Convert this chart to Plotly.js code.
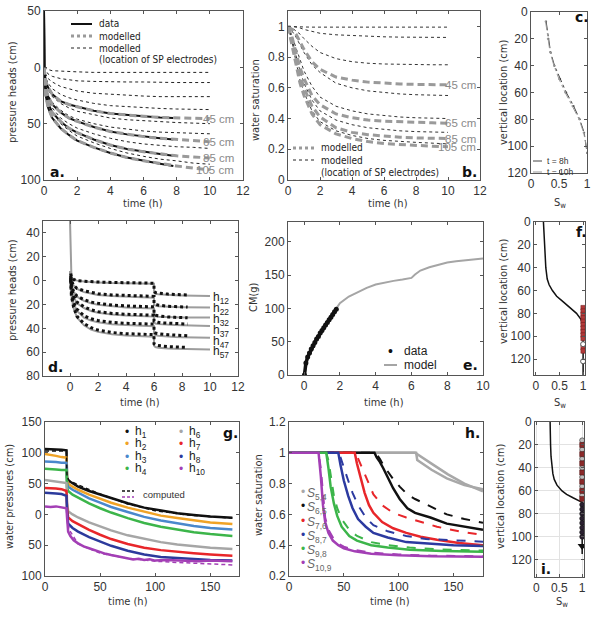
<!DOCTYPE html>
<html>
<head>
<meta charset="utf-8">
<script src="https://cdn.plot.ly/plotly-3.0.1.min.js"></script>
<style>
html,body{margin:0;padding:0;background:#fff}
#fig{width:594px;height:621px}
</style>
</head>
<body>
<div id="fig"></div>
<script>
// ===================== data =====================
// (a) pressure heads during drainage
const tA = [0, 0.1, 0.25, 0.5, 1, 1.5, 2, 3, 4, 5, 6, 7, 8, 9, 10];
const aElectrodes = [
  [0, -1, -2, -3, -3.5, -4, -4, -4.5, -4.5, -4.5, -4.5, -4.5, -4.5, -4.5, -4.5],
  [0, -3, -6, -8, -10, -11, -12, -12.5, -13, -13, -13, -13.5, -13.5, -13.5, -13.5],
  [0, -6, -10, -13, -17, -19, -21, -23, -24, -25, -25.5, -26, -26, -26, -26],
  [0, -9, -14, -19, -24, -27, -29, -32, -34, -35, -36, -36.5, -37, -37, -37.5],
  [0, -14, -20, -26, -32, -36, -39, -42, -45, -46.5, -47.5, -48.5, -49, -49.5, -50],
  [0, -18, -25, -31, -38, -43, -46, -50, -53, -55, -56.5, -57.5, -58, -58.5, -59],
  [0, -20, -28, -36, -45, -50, -54, -59, -63, -66, -68, -69.5, -70.5, -71, -72],
  [0, -22, -32, -40, -50, -56, -61, -67, -72, -76, -79, -81.5, -83, -85, -86]
];
const aModel = [
  [0, -12, -18, -24, -30, -33, -35, -38.5, -41, -42.5, -43.5, -44.5, -45, -45.3, -45.5],
  [0, -18, -26, -33, -40, -45, -48, -53, -57, -59.5, -61.5, -63, -64, -65, -66],
  [0, -22, -32, -40, -48, -54, -58, -64, -69, -72.5, -75, -77, -78.5, -79.5, -80.5],
  [0, -25, -36, -45, -54, -60, -65, -71, -76, -80, -83, -85.5, -87.5, -89.5, -91]
];
const tAd = [0, 0.02, 0.1, 0.25, 0.5, 1, 1.5, 2, 3, 4, 5, 6, 7, 7.8];
const aData = [
  [50, 0, -12, -18, -24, -30, -33, -35, -38.5, -41, -42.5, -43.5, -44.5, -45],
  [50, 0, -18, -26, -33, -40, -45, -48, -53, -57, -59.5, -61.5, -63, -64],
  [50, 0, -22, -32, -40, -48, -54, -58, -64, -69, -72.5, -75, -77, -78.5],
  [50, 0, -25, -36, -45, -54, -60, -65, -71, -76, -80, -83, -85.5, -87.5]
];
const depthLabels = ['45 cm', '65 cm', '85 cm', '105 cm'];

// (b) water saturation
const tB = [0, 0.25, 0.5, 0.75, 1, 1.5, 2, 3, 4, 5, 6, 7, 8, 9, 10];
const bElectrodes = [
  [1, 0.998, 0.997, 0.996, 0.996, 0.995, 0.995, 0.995, 0.995, 0.995, 0.995, 0.995, 0.995, 0.995, 0.995],
  [1, 1, 0.995, 0.99, 0.98, 0.965, 0.955, 0.945, 0.94, 0.935, 0.932, 0.93, 0.93, 0.928, 0.928],
  [1, 0.99, 0.97, 0.95, 0.92, 0.87, 0.83, 0.79, 0.77, 0.76, 0.755, 0.752, 0.75, 0.75, 0.75],
  [1, 0.97, 0.93, 0.88, 0.83, 0.75, 0.7, 0.63, 0.6, 0.58, 0.57, 0.56, 0.555, 0.552, 0.55],
  [1, 0.94, 0.86, 0.78, 0.71, 0.61, 0.54, 0.48, 0.45, 0.43, 0.42, 0.41, 0.405, 0.402, 0.40],
  [1, 0.92, 0.81, 0.71, 0.63, 0.52, 0.45, 0.39, 0.36, 0.34, 0.33, 0.32, 0.315, 0.312, 0.31],
  [1, 0.9, 0.77, 0.65, 0.57, 0.45, 0.38, 0.32, 0.29, 0.27, 0.258, 0.25, 0.245, 0.24, 0.235]
];
const bModel = [
  [1, 0.98, 0.95, 0.9, 0.85, 0.77, 0.72, 0.67, 0.65, 0.637, 0.63, 0.625, 0.622, 0.62, 0.62],
  [1, 0.93, 0.83, 0.73, 0.66, 0.55, 0.49, 0.43, 0.405, 0.39, 0.383, 0.378, 0.374, 0.372, 0.37],
  [1, 0.9, 0.79, 0.68, 0.6, 0.48, 0.41, 0.34, 0.31, 0.295, 0.285, 0.278, 0.274, 0.272, 0.27],
  [1, 0.88, 0.75, 0.63, 0.55, 0.43, 0.36, 0.3, 0.27, 0.25, 0.237, 0.23, 0.225, 0.22, 0.216]
];

// (c) saturation profiles
const depthC = [7, 20, 30, 40, 50, 60, 70, 80, 90, 100, 105];
const swC8h = [0.27, 0.31, 0.35, 0.42, 0.52, 0.63, 0.76, 0.87, 0.95, 0.99, 1.0];
const swC10h = [0.26, 0.3, 0.34, 0.41, 0.5, 0.61, 0.74, 0.86, 0.94, 0.99, 1.0];

// (d) pressure heads, two-step drainage
const tDm = [0, 0.05, 0.1, 0.25, 0.5, 1, 1.5, 2, 3, 4, 5, 6, 6, 6.1, 6.3, 6.6, 7, 7.5, 8, 8.4, 9, 10];
const dModel = [
  [50, 7, 3, 1, 0, -0.8, -1.3, -1.5, -2, -2.3, -2.5, -2.7, -10, -11, -11.5, -11.8, -12, -12.2, -12.4, -12.6, -12.8, -13],
  [8, 4, 0, -4, -7, -9.5, -11, -12, -13, -13.6, -14, -14.3, -20, -21, -21.5, -21.8, -22, -22.2, -22.3, -22.4, -22.5, -22.6],
  [8, 3, -3, -9, -13.5, -17, -19, -20.3, -21.7, -22.5, -23, -23.3, -29, -30, -30.3, -30.5, -30.7, -30.8, -30.9, -31, -31, -31],
  [8, 2, -6, -13.5, -19, -23, -25.5, -27, -28.5, -29.3, -29.8, -30.2, -35, -36, -36.5, -36.8, -37, -37.2, -37.4, -37.5, -37.7, -38],
  [8, 1, -10, -19, -25.5, -31, -33.5, -35, -36.5, -37.3, -37.8, -38.2, -44.5, -45.7, -46.3, -46.7, -47, -47.3, -47.5, -47.6, -47.8, -48],
  [8, 0, -13, -23, -31, -37.5, -41, -43, -45, -46, -46.5, -47, -54.5, -55.7, -56.3, -56.7, -57, -57.2, -57.4, -57.5, -57.6, -57.8]
];
const tDd = [0.05, 0.1, 0.25, 0.5, 1, 1.5, 2, 3, 4, 5, 6, 6, 6.1, 6.3, 6.6, 7, 7.5, 8, 8.4];
const dData = [
  [6, 3, 1, 0, -0.5, -1, -1.2, -1.5, -1.8, -2, -2.2, -9, -10, -10.5, -11, -11.3, -11.6, -11.8, -12],
  [4, 0, -4, -6.5, -8.5, -10, -11, -12, -12.5, -13, -13.2, -19, -20, -20.5, -21, -21.5, -21.8, -22, -22.2],
  [3, -3, -9, -13, -16, -18, -19, -20.5, -21.2, -21.7, -22, -28, -29, -29.5, -30, -30.5, -30.8, -31, -31.2],
  [2, -6, -13, -18, -22, -24.5, -26, -27.5, -28.2, -28.7, -29, -34, -34.5, -35, -35.5, -35.8, -36, -36.2, -36.4],
  [1, -10, -18, -24, -29.5, -32, -33.5, -35, -35.8, -36.2, -36.5, -43, -44, -44.5, -45, -45.4, -45.7, -46, -46.2],
  [0, -13, -22, -30, -36, -39.5, -41.5, -43.5, -44.5, -45, -45.3, -53, -54, -54.5, -55, -55.3, -55.6, -55.8, -56]
];
const dLabels = ['h<sub>12</sub>', 'h<sub>22</sub>', 'h<sub>32</sub>', 'h<sub>37</sub>', 'h<sub>47</sub>', 'h<sub>57</sub>'];

// (e) cumulative outflow mass
const tEd = [0.02, 0.1, 0.2, 0.3, 0.4, 0.5, 0.6, 0.7, 0.8, 0.9, 1.0, 1.1, 1.2, 1.3, 1.4, 1.5, 1.6, 1.7, 1.8];
const cmEd = [0, 18, 27, 33, 39, 44, 49, 54, 58, 63, 67, 71, 75, 79, 83, 87, 91, 95, 99];
const tEm = [0, 0.05, 0.2, 0.5, 1, 1.5, 2, 2.5, 3, 3.5, 4, 4.5, 5, 5.5, 6, 6.2, 6.5, 7, 7.5, 8, 8.5, 9, 9.5, 10];
const cmEm = [0, 5, 25, 45, 68, 88, 108, 118, 125, 131, 136, 139, 141.5, 143.5, 146, 151, 157, 162, 166, 169, 171, 172.5, 174, 175];

// (f) saturation profile with electrode positions
const depthF = [0, 10, 20, 30, 40, 50, 55, 60, 65, 70, 75, 80, 85, 90, 95, 134];
const swF = [0.16, 0.17, 0.18, 0.19, 0.21, 0.24, 0.28, 0.35, 0.44, 0.58, 0.72, 0.86, 0.95, 0.99, 1.0, 1.0];
const fSquares = [75, 78, 81, 84, 87, 90, 93, 96, 99, 102, 110, 113];
const fCircles = [107, 122];

// (g) water pressures
const tG = [0, 5, 10, 15, 19.5, 20, 21, 25, 30, 40, 50, 60, 75, 90, 105, 120, 135, 150, 170];
const gNames = ['h<sub>1</sub>', 'h<sub>2</sub>', 'h<sub>3</sub>', 'h<sub>4</sub>', 'h<sub>6</sub>', 'h<sub>7</sub>', 'h<sub>8</sub>'];
const gSeries = [
  [106, 106, 105, 105, 104, 60, 55, 50, 45, 38, 32, 26, 18, 11, 6, 2, -1, -3.5, -5.5],
  [98, 97, 95, 93, 92, 55, 50, 45, 40, 32, 25, 19, 11, 4, -2, -6, -10, -13, -15.5],
  [86, 86, 85, 84, 84, 50, 45, 40, 35, 26, 19, 12, 4, -4, -10, -15, -19, -22, -24.5],
  [74, 74, 73, 72, 72, 44, 38, 32, 27, 18, 10, 3, -6, -14, -20, -25, -29, -32, -35],
  [56, 55, 54, 53, 51, 20, 5, 0, -5, -13, -20, -26, -34, -40, -45, -49, -52, -54, -56],
  [43, 43, 42, 41, 38, 10, -5, -11, -16, -25, -33, -40, -48, -54, -58, -61, -63, -65, -67],
  [35, 35, 34, 33, 30, 5, -15, -22, -28, -37, -44, -51, -59, -65, -69, -71, -73, -74, -75]
];
const tG10 = [0, 5, 10, 15, 19.5, 20, 21, 23, 26, 30, 35, 40, 45, 50, 55, 60, 65, 70, 75, 80, 85, 90, 95, 100, 110, 120, 130, 140, 150, 160, 170];
const gH10 = [13, 12, 13, 11, 10, -5, -28, -35, -42, -47, -52, -55, -58, -62, -64, -66, -68, -69, -72, -73, -72, -74, -73, -75, -74, -75, -75, -76, -75, -76, -76];
const tGc1 = [0, 10, 19.5, 20, 22, 30, 50, 75, 100, 130, 170];
const gComp1 = [103, 103, 103, 60, 55, 48, 33, 17, 6, -1, -6];
const tGc10 = [20, 22, 30, 50, 75, 100, 120, 140, 160, 170];
const gComp10 = [-5, -25, -48, -63, -71, -76, -78, -80, -82, -82];

// (h) water saturation per layer (solid: measured, dashed: computed)
const hNames = ['<i>S</i><sub>5,4</sub>', '<i>S</i><sub>6,5</sub>', '<i>S</i><sub>7,6</sub>', '<i>S</i><sub>8,7</sub>', '<i>S</i><sub>9,8</sub>', '<i>S</i><sub>10,9</sub>'];
const tH54a = [0, 115, 130, 145, 160, 177];
const sH54a = [1, 1, 0.93, 0.86, 0.8, 0.75];
const tH54b = [0, 116, 117, 130, 144, 160, 177];
const sH54b = [1, 1, 0.953, 0.89, 0.834, 0.79, 0.763];
const tH65 = [0, 78, 80, 83, 86, 90, 95, 101, 108, 115, 129, 144, 160, 177];
const sH65 = [1, 1, 0.97, 0.94, 0.9, 0.84, 0.77, 0.7, 0.64, 0.61, 0.58, 0.54, 0.52, 0.50];
const cH65 = [1, 1, 0.99, 0.96, 0.92, 0.88, 0.83, 0.78, 0.73, 0.7, 0.65, 0.6, 0.57, 0.546];
const tH76 = [0, 60, 62, 65, 69, 73, 77, 85, 95, 107, 120, 135, 155, 177];
const sH76 = [1, 1, 0.93, 0.84, 0.74, 0.66, 0.61, 0.55, 0.51, 0.48, 0.455, 0.435, 0.415, 0.40];
const cH76 = [1, 1, 0.98, 0.93, 0.86, 0.79, 0.73, 0.66, 0.61, 0.58, 0.55, 0.52, 0.49, 0.466];
const tH87 = [0, 45, 47, 50, 54, 58, 63, 70, 77, 90, 107, 125, 150, 177];
const sH87 = [1, 1, 0.92, 0.82, 0.72, 0.64, 0.57, 0.52, 0.48, 0.45, 0.42, 0.41, 0.4, 0.395];
const cH87 = [1, 1, 0.97, 0.9, 0.82, 0.74, 0.66, 0.58, 0.53, 0.49, 0.46, 0.44, 0.43, 0.423];
const tH98 = [0, 34, 36, 38, 41, 44, 48, 55, 62, 75, 90, 110, 140, 177];
const sH98 = [1, 1, 0.9, 0.78, 0.67, 0.59, 0.52, 0.46, 0.43, 0.4, 0.385, 0.37, 0.362, 0.358];
const cH98 = [1, 1, 0.95, 0.85, 0.72, 0.64, 0.57, 0.5, 0.46, 0.42, 0.4, 0.385, 0.372, 0.365];
const tH109 = [0, 27, 29, 31, 33, 36, 40, 45, 50, 60, 75, 100, 130, 177];
const sH109 = [1, 1, 0.85, 0.66, 0.55, 0.48, 0.43, 0.4, 0.38, 0.36, 0.345, 0.335, 0.328, 0.325];
const cH109 = [1, 1, 0.9, 0.72, 0.58, 0.5, 0.45, 0.41, 0.39, 0.37, 0.352, 0.34, 0.332, 0.328];

// (i) saturation profile with sensor positions
const depthI = [0, 10, 20, 30, 40, 45, 50, 55, 60, 63, 66, 68, 70, 115];
const swI = [0.3, 0.3, 0.31, 0.32, 0.34, 0.36, 0.39, 0.45, 0.56, 0.66, 0.8, 0.92, 1.0, 1.0];
const iCircles = [16, 24, 32, 40, 48, 56, 64];
const iSquares = [20, 28, 36, 44, 52, 60, 67];
const iFilled = [72, 76, 80, 84, 88, 92, 96, 100];
const iArrow = [108];

// ===================== styling helpers =====================
const W = 594, H = 621;
const px = v => v / W;
const py = v => 1 - v / H;
const TICKFONT = {family: 'Liberation Sans, Arial, sans-serif', size: 12, color: '#333'};
const TITLEFONT = {family: 'DejaVu Sans Condensed, DejaVu Sans, sans-serif', size: 11, color: '#333'};
const LEGFONT = {family: 'DejaVu Sans Condensed, DejaVu Sans, sans-serif', size: 10, color: '#222'};

const colors = {
  h1: '#111111', h2: '#f0a326', h3: '#4a88cc', h4: '#3cb54a',
  h6: '#a6a6a6', h7: '#e8262a', h8: '#2c3a9c', h10: '#a33fb5'
};
const gColors = [colors.h1, colors.h2, colors.h3, colors.h4, colors.h6, colors.h7, colors.h8];

const traces = [];
function line(id, x, y, ln, extra) {
  traces.push(Object.assign({type: 'scatter', mode: 'lines', x: x, y: y,
    xaxis: 'x' + id, yaxis: 'y' + id, line: ln, hoverinfo: 'skip', showlegend: false}, extra || {}));
}
function pts(id, x, y, mk) {
  traces.push({type: 'scatter', mode: 'markers', x: x, y: y, xaxis: 'x' + id, yaxis: 'y' + id,
    marker: mk, hoverinfo: 'skip', showlegend: false});
}

const layout = {
  width: W, height: H, margin: {l: 0, r: 0, t: 0, b: 0},
  paper_bgcolor: '#fff', plot_bgcolor: '#fff', showlegend: false,
  shapes: [], annotations: []
};

function axes(id, box, xr, yr, xo, yo) {
  const [x0, x1, y0, y1] = box;
  const base = {showline: true, mirror: 'ticks', linecolor: '#555', linewidth: 1,
    ticks: 'inside', ticklen: 3, tickcolor: '#555', showgrid: false, zeroline: false,
    tickfont: TICKFONT, fixedrange: true};
  layout['xaxis' + id] = Object.assign({}, base, {domain: [px(x0), px(x1)], range: xr, anchor: 'y' + id}, xo || {});
  layout['yaxis' + id] = Object.assign({}, base, {domain: [py(y1), py(y0)], range: yr, anchor: 'x' + id}, yo || {});
}
function text(t, x, y, font, opts) {
  layout.annotations.push(Object.assign({text: t, x: px(x), y: py(y), xref: 'paper', yref: 'paper',
    showarrow: false, font: font, xanchor: 'center', yanchor: 'middle'}, opts || {}));
}
function dataText(id, t, x, y, font, opts) {
  layout.annotations.push(Object.assign({text: t, x: x, y: y, xref: 'x' + id, yref: 'y' + id,
    showarrow: false, font: font, xanchor: 'left', yanchor: 'middle'}, opts || {}));
}
function seg(x0, x1, y, ln) {
  layout.shapes.push({type: 'line', xref: 'paper', yref: 'paper', x0: px(x0), x1: px(x1), y0: py(y), y1: py(y), line: ln});
}
function ytitle(t, x, y) { text(t, x, y, TITLEFONT, {textangle: -90}); }
function xtitle(t, x, y) { text(t, x, y, TITLEFONT); }
function letter(t, x, y) {
  text('<b>' + t + '</b>', x, y, {family: 'DejaVu Sans, sans-serif', size: 14, color: '#111'}, {xanchor: 'left'});
}
const lastOf = a => a[a.length - 1];
const LABGRAY = {family: 'Liberation Sans, Arial, sans-serif', size: 11.5, color: '#8a8a8a'};

// ===================== (a) =====================
axes('', [44, 243, 11, 180], [0, 12], [-100, 50],
  {tickvals: [0, 2, 4, 6, 8, 10, 12]},
  {tickvals: [-100, -50, 0, 50], ticktext: ['100', '50', '0', '50']});
aElectrodes.forEach(s => line('', tA, s, {color: '#222', width: 1, dash: 'dot'}));
aData.forEach(s => line('', tAd, s, {color: '#111', width: 2}));
aModel.forEach((s, k) => {
  line('', tA, s, {color: '#9a9a9a', width: 3, dash: '7px,4px'});
  dataText('', depthLabels[k], 11.6, lastOf(s), LABGRAY, {xanchor: 'right'});
});
xtitle('time (h)', 143, 203);
ytitle('pressure heads (cm)', 12, 92);
letter('a.', 48, 172);
seg(71, 92, 24, {color: '#111', width: 2});
seg(71, 92, 36, {color: '#9a9a9a', width: 3, dash: 'dot'});
seg(71, 92, 48, {color: '#222', width: 1, dash: 'dot'});
text('data', 97, 24, LEGFONT, {xanchor: 'left'});
text('modelled', 97, 36, LEGFONT, {xanchor: 'left'});
text('modelled', 97, 48, LEGFONT, {xanchor: 'left'});
text('(location of SP electrodes)', 97, 60, LEGFONT, {xanchor: 'left'});

// ===================== (b) =====================
axes('2', [288, 480, 11, 180], [0, 12], [0, 1.1],
  {tickvals: [0, 2, 4, 6, 8, 10, 12]},
  {tickvals: [0, 0.2, 0.4, 0.6, 0.8, 1]});
bElectrodes.forEach(s => line('2', tB, s, {color: '#333', width: 1, dash: 'dot'}));
bModel.forEach((s, k) => {
  line('2', tB, s, {color: '#9a9a9a', width: 3, dash: '7px,4px'});
  dataText('2', depthLabels[k], 11.9, lastOf(s), LABGRAY, {xanchor: 'right'});
});
xtitle('time (h)', 388, 203);
ytitle('water saturation', 255, 100);
letter('b.', 460, 172);
seg(293, 316, 148, {color: '#9a9a9a', width: 3, dash: 'dot'});
seg(293, 316, 160, {color: '#222', width: 1, dash: 'dot'});
text('modelled', 319, 148, LEGFONT, {xanchor: 'left'});
text('modelled', 319, 160, LEGFONT, {xanchor: 'left'});
text('(location of SP electrodes)', 319, 172, LEGFONT, {xanchor: 'left'});

// ===================== (c) =====================
axes('3', [531, 587, 12, 173], [0, 1], [120, 0],
  {tickvals: [0, 0.5, 1]},
  {tickvals: [0, 20, 40, 60, 80, 100, 120]});
line('3', swC8h, depthC, {color: '#444', width: 1, dash: 'dashdot'}, {mode: 'lines+markers', marker: {size: 2, color: '#444'}});
line('3', swC10h, depthC, {color: '#9a9a9a', width: 1, dash: 'dashdot'}, {mode: 'lines+markers', marker: {size: 2, color: '#9a9a9a'}});
xtitle('S<sub>w</sub>', 560, 203);
ytitle('vertical location (cm)', 503, 93);
letter('c.', 573, 17);
const CLEG = {family: 'Liberation Sans, Arial, sans-serif', size: 8.5, color: '#333'};
seg(533, 543, 161, {color: '#444', width: 1, dash: 'dashdot'});
seg(533, 543, 172, {color: '#9a9a9a', width: 1, dash: 'dashdot'});
text('t = 8h', 545, 161, CLEG, {xanchor: 'left'});
text('t = 10h', 545, 172, CLEG, {xanchor: 'left'});

// ===================== (d) =====================
axes('4', [43, 238, 221, 376], [-1.93, 12], [-80, 50],
  {tickvals: [0, 2, 4, 6, 8, 10, 12]},
  {tickvals: [-80, -60, -40, -20, 0, 20, 40], ticktext: ['80', '60', '40', '20', '0', '20', '40']});
// end labels, kept at least 9 cm apart so they stay readable
let prevLab = Infinity;
dModel.forEach((s, k) => {
  line('4', tDm, s, {color: '#9d9d9d', width: 2});
  let yl = Math.min(lastOf(s) - 1.5, prevLab - 9);
  prevLab = yl;
  dataText('4', dLabels[k], 10.1, yl, {family: 'Liberation Sans, Arial, sans-serif', size: 12, color: '#222'});
});
dData.forEach(s => line('4', tDd, s, {color: '#111', width: 3, dash: 'dot'}));
xtitle('time (h)', 140, 402);
ytitle('pressure heads (cm)', 12, 290);
letter('d.', 46, 367);

// ===================== (e) =====================
axes('5', [288, 483, 222, 375], [-0.9, 10], [0, 230],
  {tickvals: [0, 2, 4, 6, 8, 10]},
  {tickvals: [0, 50, 100, 150, 200]});
line('5', tEm, cmEm, {color: '#a5a5a5', width: 2});
line('5', tEd, cmEd, {color: '#111', width: 3.5}, {mode: 'lines+markers', marker: {size: 5, color: '#111'}});
xtitle('time (h)', 384, 402);
ytitle('CM(g)', 253, 297);
letter('e.', 461, 365);
const ELEG = {family: 'Liberation Sans, Arial, sans-serif', size: 12, color: '#222'};
text('•', 390, 351, {family: 'Liberation Sans, Arial', size: 14, color: '#111'});
seg(384, 397, 365, {color: '#a5a5a5', width: 2});
text('data', 402, 351, ELEG, {xanchor: 'left'});
text('model', 402, 365, ELEG, {xanchor: 'left'});

// ===================== (f) =====================
axes('6', [534, 585, 222, 375], [-0.04, 1.04], [134, 0],
  {tickvals: [0, 0.5, 1]},
  {tickvals: [0, 20, 40, 60, 80, 100, 120]});
line('6', swF, depthF, {color: '#111', width: 1.5});
pts('6', fSquares.map(() => 1), fSquares, {symbol: 'square', size: 4.5, color: '#b23a3a', line: {color: '#6a1a1a', width: 0.5}});
pts('6', fCircles.map(() => 1), fCircles, {symbol: 'circle', size: 5, color: '#fff', line: {color: '#555', width: 1}});
xtitle('S<sub>w</sub>', 560, 403);
ytitle('vertical location (cm)', 503, 292);
letter('f.', 574, 232);

// ===================== (g) =====================
axes('7', [45, 239, 422, 576], [0, 176], [-100, 150],
  {tickvals: [0, 50, 100, 150]},
  {tickvals: [-100, -50, 0, 50, 100, 150], ticktext: ['100', '50', '0', '50', '100', '150']});
gSeries.forEach((s, k) => line('7', tG, s, {color: gColors[k], width: 2.5}));
line('7', tG10, gH10, {color: colors.h10, width: 2.5});
line('7', tGc1, gComp1, {color: '#111', width: 1.5, dash: '4px,3px'});
line('7', tGc10, gComp10, {color: colors.h10, width: 1.5, dash: '4px,3px'});
xtitle('time (h)', 128, 601);
ytitle('water pressures (cm)', 9, 497);
letter('g.', 221, 433);
const GLEG = {family: 'Liberation Sans, Arial, sans-serif', size: 12, color: '#222'};
const gLegCols = [[127, 133], [181, 187]];
const gLegRows = [432, 444, 457, 469];
const gAllNames = gNames.concat(['h<sub>10</sub>']);
const gAllColors = gColors.concat([colors.h10]);
gAllNames.forEach((nm, k) => {
  const col = gLegCols[k < 4 ? 0 : 1], row = gLegRows[k % 4];
  text('•', col[0], row, {family: 'Liberation Sans, Arial', size: 12, color: gAllColors[k]});
  text(nm, col[1], row, GLEG, {xanchor: 'left'});
});
seg(122, 134, 491, {color: '#111', width: 1.5, dash: '3px,2px'});
seg(122, 134, 497, {color: colors.h10, width: 1.5, dash: '3px,2px'});
text('computed', 141, 494, {family: 'Liberation Sans, Arial', size: 9.5, color: '#333'}, {xanchor: 'left'});

// ===================== (h) =====================
axes('8', [289, 483, 422, 576], [0, 177], [0.2, 1.2],
  {tickvals: [0, 50, 100, 150]},
  {tickvals: [0.2, 0.4, 0.6, 0.8, 1, 1.2]});
line('8', tH54a, sH54a, {color: '#a8a8a8', width: 2.5});
line('8', tH54b, sH54b, {color: '#a8a8a8', width: 2.5});
const hSets = [
  [tH65, sH65, cH65, '#111111'],
  [tH76, sH76, cH76, colors.h7],
  [tH87, sH87, cH87, '#2c3aa0'],
  [tH98, sH98, cH98, colors.h4],
  [tH109, sH109, cH109, colors.h10]
];
hSets.forEach(([t, s, c, col]) => {
  line('8', t, c, {color: col, width: 2, dash: 'dash'});
  line('8', t, s, {color: col, width: 2.5});
});
xtitle('time (h)', 390, 601);
ytitle('water saturation', 258, 495);
letter('h.', 463, 433);
const hLegColors = ['#a8a8a8', '#111111', colors.h7, '#2c3aa0', colors.h4, colors.h10];
const hRows = [492, 506, 521, 535, 549, 563];
hLegColors.forEach((col, k) => {
  text('•', 303, hRows[k], {family: 'Liberation Sans, Arial', size: 12, color: col});
  text(hNames[k], 305, hRows[k] + 2, {family: 'Liberation Sans, Arial', size: 12, color: '#666'}, {xanchor: 'left'});
});

// ===================== (i) =====================
axes('9', [535, 584, 422, 577], [-0.03, 1.04], [135, 0],
  {tickvals: [0, 0.5, 1], showgrid: true, gridcolor: '#e2e2e2', gridwidth: 1},
  {tickvals: [0, 20, 40, 60, 80, 100, 120], showgrid: true, gridcolor: '#e2e2e2', gridwidth: 1});
line('9', swI, depthI, {color: '#111', width: 1.5});
pts('9', iCircles.map(() => 1), iCircles, {symbol: 'circle', size: 5, color: '#bdbdbd', line: {color: '#555', width: 0.8}});
pts('9', iSquares.map(() => 1), iSquares, {symbol: 'square', size: 5, color: '#8a2a2a', line: {color: '#4a1010', width: 0.5}});
pts('9', iFilled.map(() => 1), iFilled, {symbol: 'circle', size: 5, color: '#2a2030', line: {color: '#111', width: 0.5}});
pts('9', iArrow.map(() => 1), iArrow, {symbol: 'triangle-down', size: 8, color: '#111'});
xtitle('S<sub>w</sub>', 562, 602);
ytitle('vertical location (cm)', 500, 497);
letter('i.', 539, 569);

Plotly.newPlot('fig', traces, layout, {staticPlot: true, displayModeBar: false});
</script>
</body>
</html>
